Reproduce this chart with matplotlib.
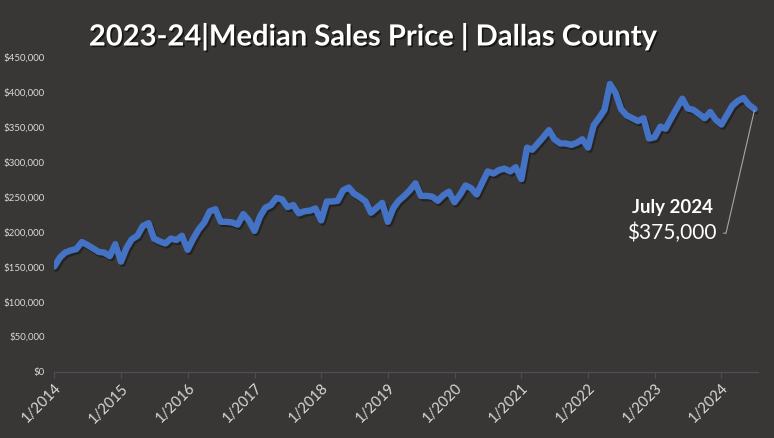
import matplotlib
matplotlib.use("Agg")
import matplotlib.pyplot as plt
import matplotlib.dates as mdates
import matplotlib.patheffects as pe
import pandas as pd
from matplotlib.ticker import FuncFormatter

# ---- data (median sales price, monthly, Jan 2014 - Jul 2024) ----
start_month = "2014-01-01"
prices_k = [
    150, 163, 170, 173, 175, 185, 181, 176, 171, 170, 165, 182,   # 2014
    157, 177, 189, 194, 208, 212, 190, 186, 183, 190, 188, 194,   # 2015
    174, 190, 203, 213, 229, 232, 214, 214, 213, 210, 225, 216,   # 2016
    201, 222, 234, 238, 248, 246, 235, 238, 226, 229, 230, 233,   # 2017
    216, 243, 243, 244, 259, 263, 254, 249, 243, 227, 234, 241,   # 2018
    214, 234, 244, 251, 259, 269, 251, 251, 250, 244, 252, 257,   # 2019
    242, 253, 266, 262, 253, 270, 286, 283, 288, 290, 286, 292,   # 2020
    275, 320, 317, 326, 335, 345, 332, 326, 326, 324, 327, 332,   # 2021
    320, 352, 362, 374, 411, 398, 375, 366, 362, 358, 362, 333,   # 2022
    335, 350, 347, 362, 376, 390, 376, 374, 368, 362, 371, 360,   # 2023
    353, 367, 380, 387, 391, 381, 375,                            # 2024
]
tick_years = list(range(2014, 2025))
y_ticks = list(range(0, 450001, 50000))
title_text = "2023-24|Median Sales Price | Dallas County"
label_month = "July 2024"
label_value = "$375,000"

dates = pd.date_range(start_month, periods=len(prices_k), freq="MS")
values = [v * 1000 for v in prices_k]

BG = "#393735"
LINE = "#4472C4"
TXT = "#d9d9d9"
AXC = "#4d4d5c"

fig = plt.figure(figsize=(7.74, 4.38), dpi=100, facecolor=BG)
ax = fig.add_axes([54.3 / 774, 1 - 371.5 / 438, (758.3 - 54.3) / 774, (371.5 - 56.7) / 438])
ax.set_facecolor(BG)

ax.plot(dates, values, color=LINE, lw=4.6, solid_capstyle="round", solid_joinstyle="round",
        path_effects=[pe.SimpleLineShadow(offset=(1.2, -1.5), shadow_color="black", alpha=0.35),
                      pe.Normal()], zorder=3)

ax.set_ylim(0, 450000)
ax.set_yticks(y_ticks)
ax.yaxis.set_major_formatter(FuncFormatter(lambda v, p: f"${int(v):,}"))
ax.tick_params(axis="y", length=0, pad=7, labelsize=7, labelcolor=TXT)
for lab in ax.get_yticklabels():
    lab.set_fontfamily(["Lato", "DejaVu Sans"])

left = mdates.date2num(pd.Timestamp(start_month))
right = mdates.date2num(dates[-1]) + 20
ax.set_xlim(left, right)
xt = [pd.Timestamp(f"{y}-01-01") for y in tick_years]
ax.set_xticks(xt)
ax.set_xticklabels([f"1/{y}" for y in tick_years], rotation=45, ha="right",
                   rotation_mode="anchor", fontsize=10.5, color=TXT,
                   fontfamily=["Lato", "DejaVu Sans"])
ax.tick_params(axis="x", length=4, width=0.8, color=AXC, pad=3)

for s in ["top", "right", "left"]:
    ax.spines[s].set_visible(False)
ax.spines["bottom"].set_color(AXC)
ax.spines["bottom"].set_linewidth(0.9)

fig.text(373 / 774, 1 - 37 / 438, title_text, ha="center", va="center", color="white",
         fontsize=21, fontweight="bold", family=["Lato", "DejaVu Sans"],
         path_effects=[pe.withSimplePatchShadow(offset=(1.2, -1.2), shadow_rgbFace="black", alpha=0.6)])

# callout for the last point
ax.annotate(label_value, xy=(dates[-1], values[-1]), xycoords="data",
            xytext=(-38, -124), textcoords="offset pixels", ha="right", va="center",
            color="white", fontsize=15, family=["Lato", "DejaVu Sans"],
            arrowprops=dict(arrowstyle="-", color="#a6a6a6", lw=0.8,
                            connectionstyle="angle,angleA=0,angleB=77,rad=0",
                            relpos=(1, 0.5), shrinkA=3, shrinkB=1),
            zorder=4)
ax.annotate(label_month, xy=(dates[-1], values[-1]), xycoords="data",
            xytext=(-82, -98), textcoords="offset pixels", ha="center", va="center",
            color="white", fontsize=13.5, fontweight="bold", family=["Lato", "DejaVu Sans"],
            zorder=4)

fig.savefig("out.png", dpi=100, facecolor=BG)
